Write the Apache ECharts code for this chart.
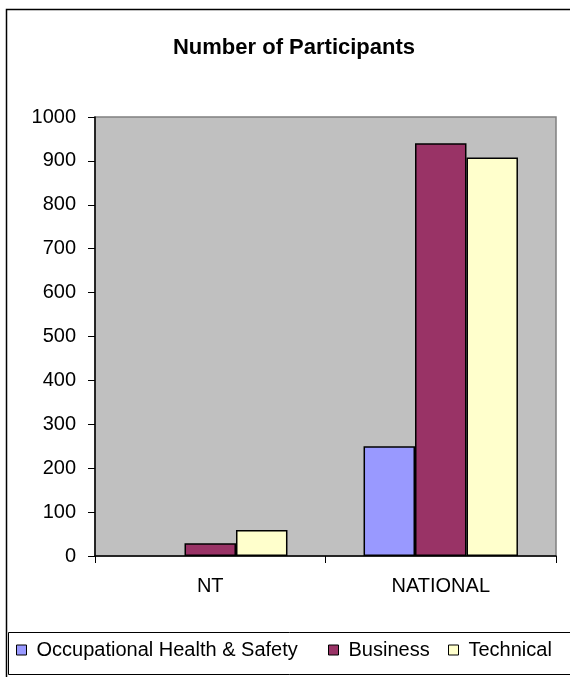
<!DOCTYPE html>
<html>
<head>
<meta charset="utf-8">
<script src="https://cdn.jsdelivr.net/npm/echarts@6/dist/echarts.min.js"></script>
<style>
  html, body { margin: 0; padding: 0; background: #fff; }
  #chart { width: 570px; height: 677px; }
</style>
</head>
<body>
<div id="chart"></div>
<script>
// Participants by program area, per region
const categories = ['NT', 'NATIONAL'];
const seriesNames = ['Occupational Health & Safety', 'Business', 'Technical'];
const ohsValues = [0, 250];
const businessValues = [29, 940];
const technicalValues = [59, 908];
const yTicks = { min: 0, max: 1000, interval: 100 };

const colors = ['#9999FF', '#993366', '#FFFFCC'];
const font = '"Liberation Sans", Arial, sans-serif';

const chart = echarts.init(document.getElementById('chart'), null, { renderer: 'canvas' });

const seriesData = [ohsValues, businessValues, technicalValues];

// one legend block per entry, laid out along the framed strip at the bottom
const legendLefts = [16, 328, 448];
const legends = seriesNames.map((name, i) => ({
  data: [name],
  left: legendLefts[i],
  top: 640,
  itemWidth: 10,
  itemHeight: 10,
  icon: 'rect',
  selectedMode: false,
  padding: 0,
  itemStyle: { borderColor: '#000', borderWidth: 1 },
  textStyle: { fontFamily: font, fontSize: 20, color: '#000', padding: [0, 0, 0, 5], lineHeight: 20 }
}));

// empty bars get no outline so nothing is stroked along the baseline
const toBarData = (values) => values.map((v) => ({
  value: v,
  itemStyle: v === 0 ? { borderWidth: 0 } : undefined
}));

chart.setOption({
  animation: false,
  backgroundColor: '#ffffff',
  title: {
    text: 'Number of Participants',
    left: 289,
    top: 32,
    textAlign: 'center',
    textStyle: { fontFamily: font, fontSize: 22, fontWeight: 'bold', color: '#000' }
  },
  graphic: [
    {
      type: 'rect', silent: true, z: -1,
      shape: { x: 6.5, y: 9.5, width: 620, height: 720 },
      style: { fill: 'none', stroke: '#000', lineWidth: 1.5 }
    },
    {
      type: 'rect', silent: true, z: -1,
      shape: { x: 8.5, y: 632.5, width: 620, height: 42 },
      style: { fill: '#fff', stroke: '#000', lineWidth: 1 }
    }
  ],
  legend: legends,
  grid: {
    left: 95, top: 117, right: 14, bottom: 121,
    show: true,
    backgroundColor: '#C0C0C0',
    borderColor: '#808080',
    borderWidth: 1.5
  },
  xAxis: {
    type: 'category',
    data: categories,
    z: 5,
    axisLine: { show: true, lineStyle: { color: '#000', width: 1.5 } },
    axisTick: { show: true, length: 7, lineStyle: { color: '#000', width: 1 } },
    axisLabel: { fontFamily: font, fontSize: 20, color: '#000', margin: 20 },
    splitLine: { show: false }
  },
  yAxis: {
    type: 'value',
    min: yTicks.min,
    max: yTicks.max,
    interval: yTicks.interval,
    z: 5,
    axisLine: { show: true, lineStyle: { color: '#000', width: 1.5 } },
    axisTick: { show: true, length: 7, lineStyle: { color: '#000', width: 1 } },
    axisLabel: { fontFamily: font, fontSize: 20, color: '#000', margin: 19, formatter: (v) => String(v) },
    splitLine: { show: false }
  },
  series: seriesNames.map((name, i) => ({
    name: name,
    type: 'bar',
    data: toBarData(seriesData[i]),
    barGap: '0%',
    barCategoryGap: '33%',
    itemStyle: { color: colors[i], borderColor: '#000', borderWidth: 1.5 }
  }))
});
</script>
</body>
</html>
